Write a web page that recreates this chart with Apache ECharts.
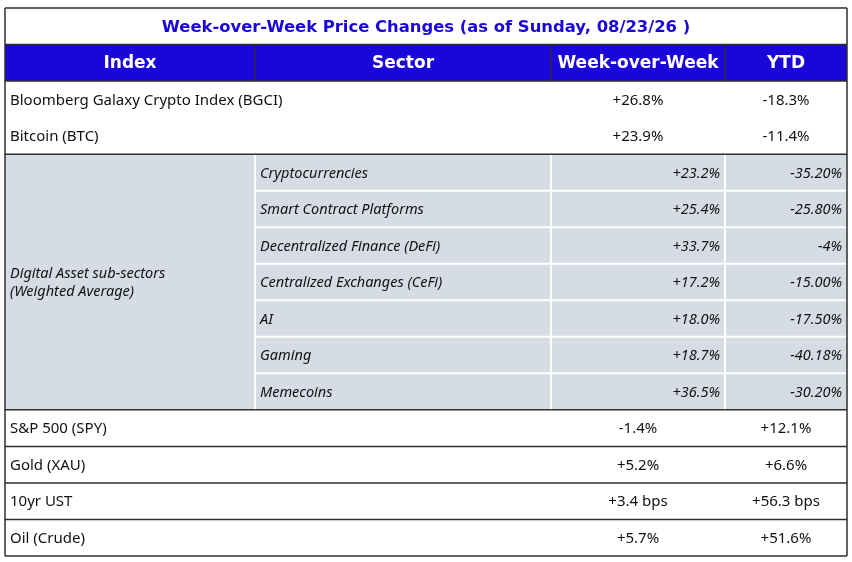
<!DOCTYPE html>
<head>
<meta charset="utf-8">
<title>Week-over-Week Price Changes</title>
<style>
  html, body { margin: 0; padding: 0; background: #fff; }
</style>
</head>
<body>
<div id="main" style="width: 852px; height: 562px"></div>
<script src="https://cdn.jsdelivr.net/npm/echarts@6/dist/echarts.min.js"></script>
<script>
// ---- table data ----
var title = 'Week-over-Week Price Changes (as of Sunday, 08/23/26 )';
var headers = ['Index', 'Sector', 'Week-over-Week', 'YTD'];

var topNames = ['Bloomberg Galaxy Crypto Index (BGCI)', 'Bitcoin (BTC)'];
var topWow = ['+26.8%', '+23.9%'];
var topYtd = ['-18.3%', '-11.4%'];

var subGroup = 'Digital Asset sub-sectors\n(Weighted Average)';
var subSectors = ['Cryptocurrencies', 'Smart Contract Platforms', 'Decentralized Finance (DeFi)',
    'Centralized Exchanges (CeFi)', 'AI', 'Gaming', 'Memecoins'];
var subWow = ['+23.2%', '+25.4%', '+33.7%', '+17.2%', '+18.0%', '+18.7%', '+36.5%'];
var subYtd = ['-35.20%', '-25.80%', '-4%', '-15.00%', '-17.50%', '-40.18%', '-30.20%'];

var macroNames = ['S&P 500 (SPY)', 'Gold (XAU)', '10yr UST', 'Oil (Crude)'];
var macroWow = ['-1.4%', '+5.2%', '+3.4 bps', '+5.7%'];
var macroYtd = ['+12.1%', '+6.6%', '+56.3 bps', '+51.6%'];

// ---- layout (axis units) ----
var colEdges = [0, 250, 546, 720, 842];
var rowCount = 2 + topNames.length + subSectors.length + macroNames.length;
var FONT = '"Noto Sans", sans-serif';
var HEAD_FONT = '"DejaVu Sans", sans-serif';
var BLUE = '#1a06d8';
var GREY = '#d6dce4';
var DARK = '#2e2e2e';

// cells: [c0, c1, r0, r1, text, kind]
var cells = [];
cells.push([0, 4, 0, 1, title, 'title']);
headers.forEach(function (h, i) { cells.push([i, i + 1, 1, 2, h, 'head']); });
var r = 2;
topNames.forEach(function (n, i) {
    cells.push([0, 2, r, r + 1, n, 'left']);
    cells.push([2, 3, r, r + 1, topWow[i], 'center']);
    cells.push([3, 4, r, r + 1, topYtd[i], 'center']);
    r++;
});
var subStart = r;
cells.push([0, 1, r, r + subSectors.length, subGroup, 'group']);
subSectors.forEach(function (n, i) {
    cells.push([1, 2, r, r + 1, n, 'subLeft']);
    cells.push([2, 3, r, r + 1, subWow[i], 'subRight']);
    cells.push([3, 4, r, r + 1, subYtd[i], 'subRight']);
    r++;
});
var subEnd = r;
macroNames.forEach(function (n, i) {
    cells.push([0, 2, r, r + 1, n, 'left']);
    cells.push([2, 3, r, r + 1, macroWow[i], 'center']);
    cells.push([3, 4, r, r + 1, macroYtd[i], 'center']);
    r++;
});

// lines: [x0, y0, x1, y1, kind]
var lines = [];
// white separators inside sub-sector block
for (var k = subStart + 1; k < subEnd; k++) lines.push([colEdges[1], k, colEdges[4], k, 'white']);
for (var c = 1; c < 4; c++) lines.push([colEdges[c], subStart, colEdges[c], subEnd, 'white']);
// dark rules
[1, 2, subStart, subEnd].concat(macroNames.map(function (_, i) { return subEnd + i + 1; }))
    .forEach(function (y) { if (y < rowCount) lines.push([colEdges[0], y, colEdges[4], y, 'dark']); });
for (var c2 = 1; c2 < 4; c2++) lines.push([colEdges[c2], 1, colEdges[c2], 2, 'dark']);
lines.push([colEdges[0], 0, colEdges[4], 0, 'dark']);
lines.push([colEdges[0], rowCount, colEdges[4], rowCount, 'dark']);
lines.push([colEdges[0], 0, colEdges[0], rowCount, 'dark']);
lines.push([colEdges[4], 0, colEdges[4], rowCount, 'dark']);

function cellStyle(kind) {
    switch (kind) {
        case 'title': return { fill: null, font: 'bold 16.4px ' + HEAD_FONT, color: BLUE, align: 'center' };
        case 'head': return { fill: BLUE, font: 'bold 17px ' + HEAD_FONT, color: '#fff', align: 'center' };
        case 'left': return { fill: null, font: '15px ' + FONT, color: '#111', align: 'left' };
        case 'center': return { fill: null, font: '15px ' + FONT, color: '#111', align: 'center' };
        case 'group': return { fill: GREY, font: 'italic 14.5px ' + FONT, color: '#111', align: 'left' };
        case 'subLeft': return { fill: GREY, font: 'italic 14.5px ' + FONT, color: '#111', align: 'left' };
        case 'subRight': return { fill: GREY, font: 'italic 14.5px ' + FONT, color: '#111', align: 'right' };
    }
}

var myChart = echarts.init(document.getElementById('main'));
myChart.setOption({
    animation: false,
    grid: { left: 5, right: 5, top: 8, bottom: 6 },
    xAxis: { type: 'value', min: 0, max: colEdges[4], show: false },
    yAxis: { type: 'value', min: 0, max: rowCount, inverse: true, show: false },
    series: [{
        type: 'custom',
        clip: false,
        data: cells.map(function (d) { return [colEdges[d[0]], d[2], colEdges[d[1]], d[3]]; }),
        encode: { x: [0, 2], y: [1, 3] },
        renderItem: function (params, api) {
            var d = cells[params.dataIndex];
            var s = cellStyle(d[5]);
            var p0 = api.coord([api.value(0), api.value(1)]);
            var p1 = api.coord([api.value(2), api.value(3)]);
            var pad = 5;
            var tx = s.align === 'left' ? p0[0] + pad : s.align === 'right' ? p1[0] - pad : (p0[0] + p1[0]) / 2;
            var children = [];
            if (s.fill) {
                children.push({ type: 'rect', shape: { x: p0[0], y: p0[1], width: p1[0] - p0[0], height: p1[1] - p0[1] },
                    style: { fill: s.fill } });
            }
            children.push({ type: 'text', style: { text: d[4], x: tx, y: (p0[1] + p1[1]) / 2 + 1,
                textAlign: s.align, textVerticalAlign: 'middle', font: s.font, fill: s.color, lineHeight: 18 } });
            return { type: 'group', children: children };
        }
    }, {
        type: 'custom',
        clip: false,
        z: 5,
        data: lines.map(function (l) { return l.slice(0, 4); }),
        encode: { x: [0, 2], y: [1, 3] },
        renderItem: function (params, api) {
            var l = lines[params.dataIndex];
            var p0 = api.coord([api.value(0), api.value(1)]);
            var p1 = api.coord([api.value(2), api.value(3)]);
            var white = l[4] === 'white';
            return { type: 'line', shape: { x1: p0[0], y1: p0[1], x2: p1[0], y2: p1[1] },
                style: { stroke: white ? '#ffffff' : DARK, lineWidth: white ? 2 : 1.5 }, z2: white ? 1 : 2 };
        }
    }]
});
</script>
</body>
</html>
